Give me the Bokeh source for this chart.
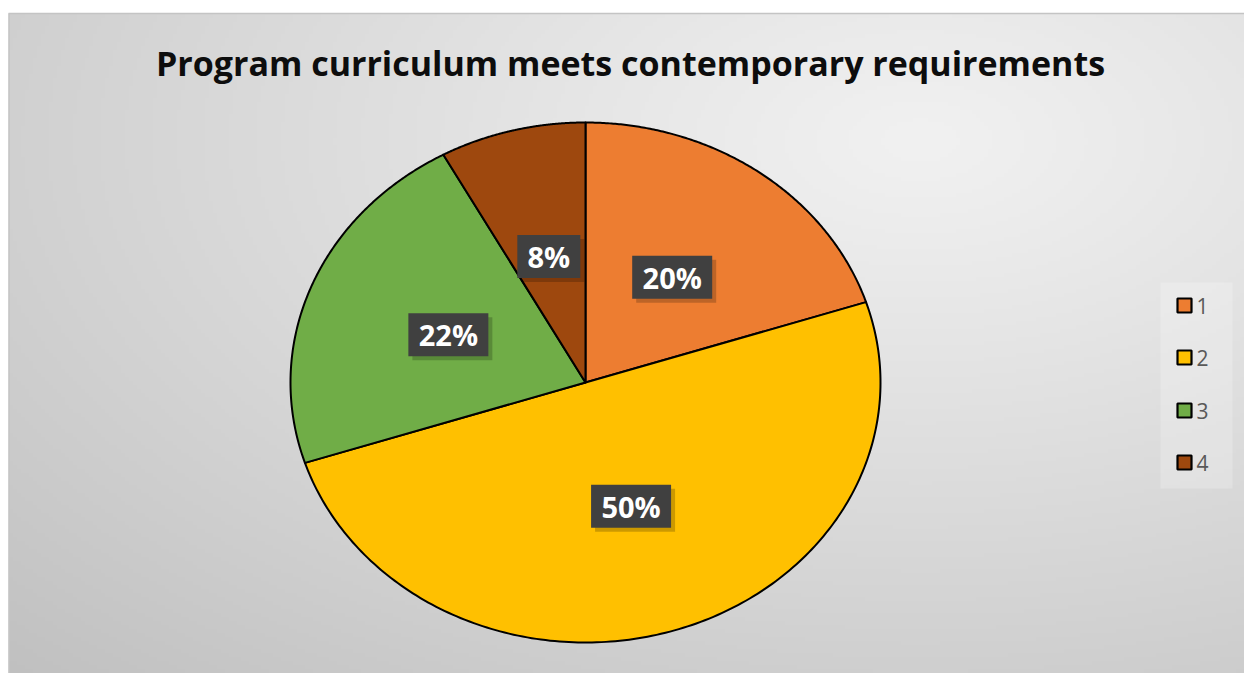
import numpy as np
from bokeh.plotting import figure
from bokeh.models import Range1d
from bokeh.core.properties import value
from bokeh.embed import file_html
from bokeh.resources import INLINE

# ---- data ----
title_text = "Program curriculum meets contemporary requirements"
categories = ["1", "2", "3", "4"]
shares = [20, 50, 22, 8]
colors = ["#ED7D31", "#FFC000", "#70AD47", "#9E480E"]
labels = ["20%", "50%", "22%", "8%"]

W, H = 1244, 673


def Y(py):
    return H - py


p = figure(width=W, height=H, output_backend="svg", toolbar_location=None,
           x_range=Range1d(0, W), y_range=Range1d(0, H),
           min_border=0, border_fill_color="white", background_fill_color="white")
p.axis.visible = False
p.grid.visible = False
p.outline_line_color = None

# ---- background gradient (style) ----
x0, y0 = 8, 13
cell = 4
gw, gh = (W - x0) // cell + 1, (H - y0) // cell + 1
jj, ii = np.meshgrid(np.arange(gw), np.arange(gh))
px = x0 + (jj + 0.5) * cell
py = H - (ii + 0.5) * cell
r = np.sqrt(((px - 920) / 1000.0) ** 2 + ((py - 140) / 560.0) ** 2)
v = np.clip(241 - 36 * r ** 1.1, 190, 245).astype(np.uint8)
img = np.empty((gh, gw), dtype=np.uint32)
view = img.view(dtype=np.uint8).reshape((gh, gw, 4))
view[..., 0] = v
view[..., 1] = v
view[..., 2] = v
view[..., 3] = 255
p.image_rgba(image=[img], x=x0, y=0, dw=gw * cell, dh=gh * cell)
p.rect(x=[x0 / 2.0], y=[H / 2.0], width=x0, height=H, fill_color="white", line_color=None)
p.rect(x=[W / 2.0], y=[Y(y0 / 2.0)], width=W, height=y0, fill_color="white", line_color=None)
p.line(x=[x0, W], y=[Y(y0), Y(y0)], line_color="#c4c4c4", line_width=1.5)
p.line(x=[x0 + 0.5, x0 + 0.5], y=[0, Y(y0)], line_color="#c4c4c4", line_width=1.5)

# ---- title ----
p.text(x=[630], y=[Y(62)], text=[title_text], text_align="center",
       text_baseline="middle", text_font=value("Open Sans"),
       text_font_style="bold", text_font_size="34px", text_color="#0d0d0d")

# ---- pie (elliptical, as in the reference) ----
cx, cy = 585, 382
rx, ry = 295, 260
total = float(sum(shares))
start = 0.0
label_x, label_y = [], []
for s, c in zip(shares, colors):
    f0, f1 = start / total, (start + s) / total
    t = np.linspace(f0, f1, 200) * 2 * np.pi
    xs = np.concatenate([[cx], cx + rx * np.sin(t), [cx]])
    ys = np.concatenate([[Y(cy)], Y(cy - ry * np.cos(t)), [Y(cy)]])
    p.patch(x=xs, y=ys, fill_color=c, line_color="#000000", line_width=2,
            line_join="round")
    m = (f0 + f1) / 2 * 2 * np.pi
    label_x.append(cx + 0.5 * rx * np.sin(m))
    label_y.append(Y(cy - 0.5 * ry * np.cos(m)))
    start += s

# ---- data labels ----
def text_w(t):
    return sum(24 if ch == "%" else 17 for ch in t)

box_w = [text_w(t) + 22 for t in labels]
p.rect(x=[x + 4 for x in label_x], y=[y - 4 for y in label_y], width=box_w,
       height=43, width_units="screen", height_units="screen",
       fill_color="#000000", fill_alpha=0.2, line_color=None)
p.rect(x=label_x, y=label_y, width=box_w, height=43, width_units="screen",
       height_units="screen", fill_color="#404040", line_color=None)
p.text(x=label_x, y=label_y, text=labels, text_align="center",
       text_baseline="middle", text_font=value("Open Sans"),
       text_font_style="bold", text_font_size="29px", text_color="#ffffff")

# ---- legend ----
leg_y = [Y(v_) for v_ in [305, 357, 410, 462]]
p.rect(x=[1196], y=[Y(385)], width=72, height=206, fill_color="#ffffff",
       fill_alpha=0.22, line_color=None)
p.rect(x=[1184] * 4, y=leg_y, width=14, height=14, width_units="screen",
       height_units="screen", fill_color=colors, line_color="#000000",
       line_width=2.2)
p.text(x=[1196] * 4, y=leg_y, text=categories, text_align="left",
       text_baseline="middle", text_font=value("Open Sans"),
       text_font_size="21px", text_color="#595959")

open("out.html", "w").write(file_html(p, INLINE))
